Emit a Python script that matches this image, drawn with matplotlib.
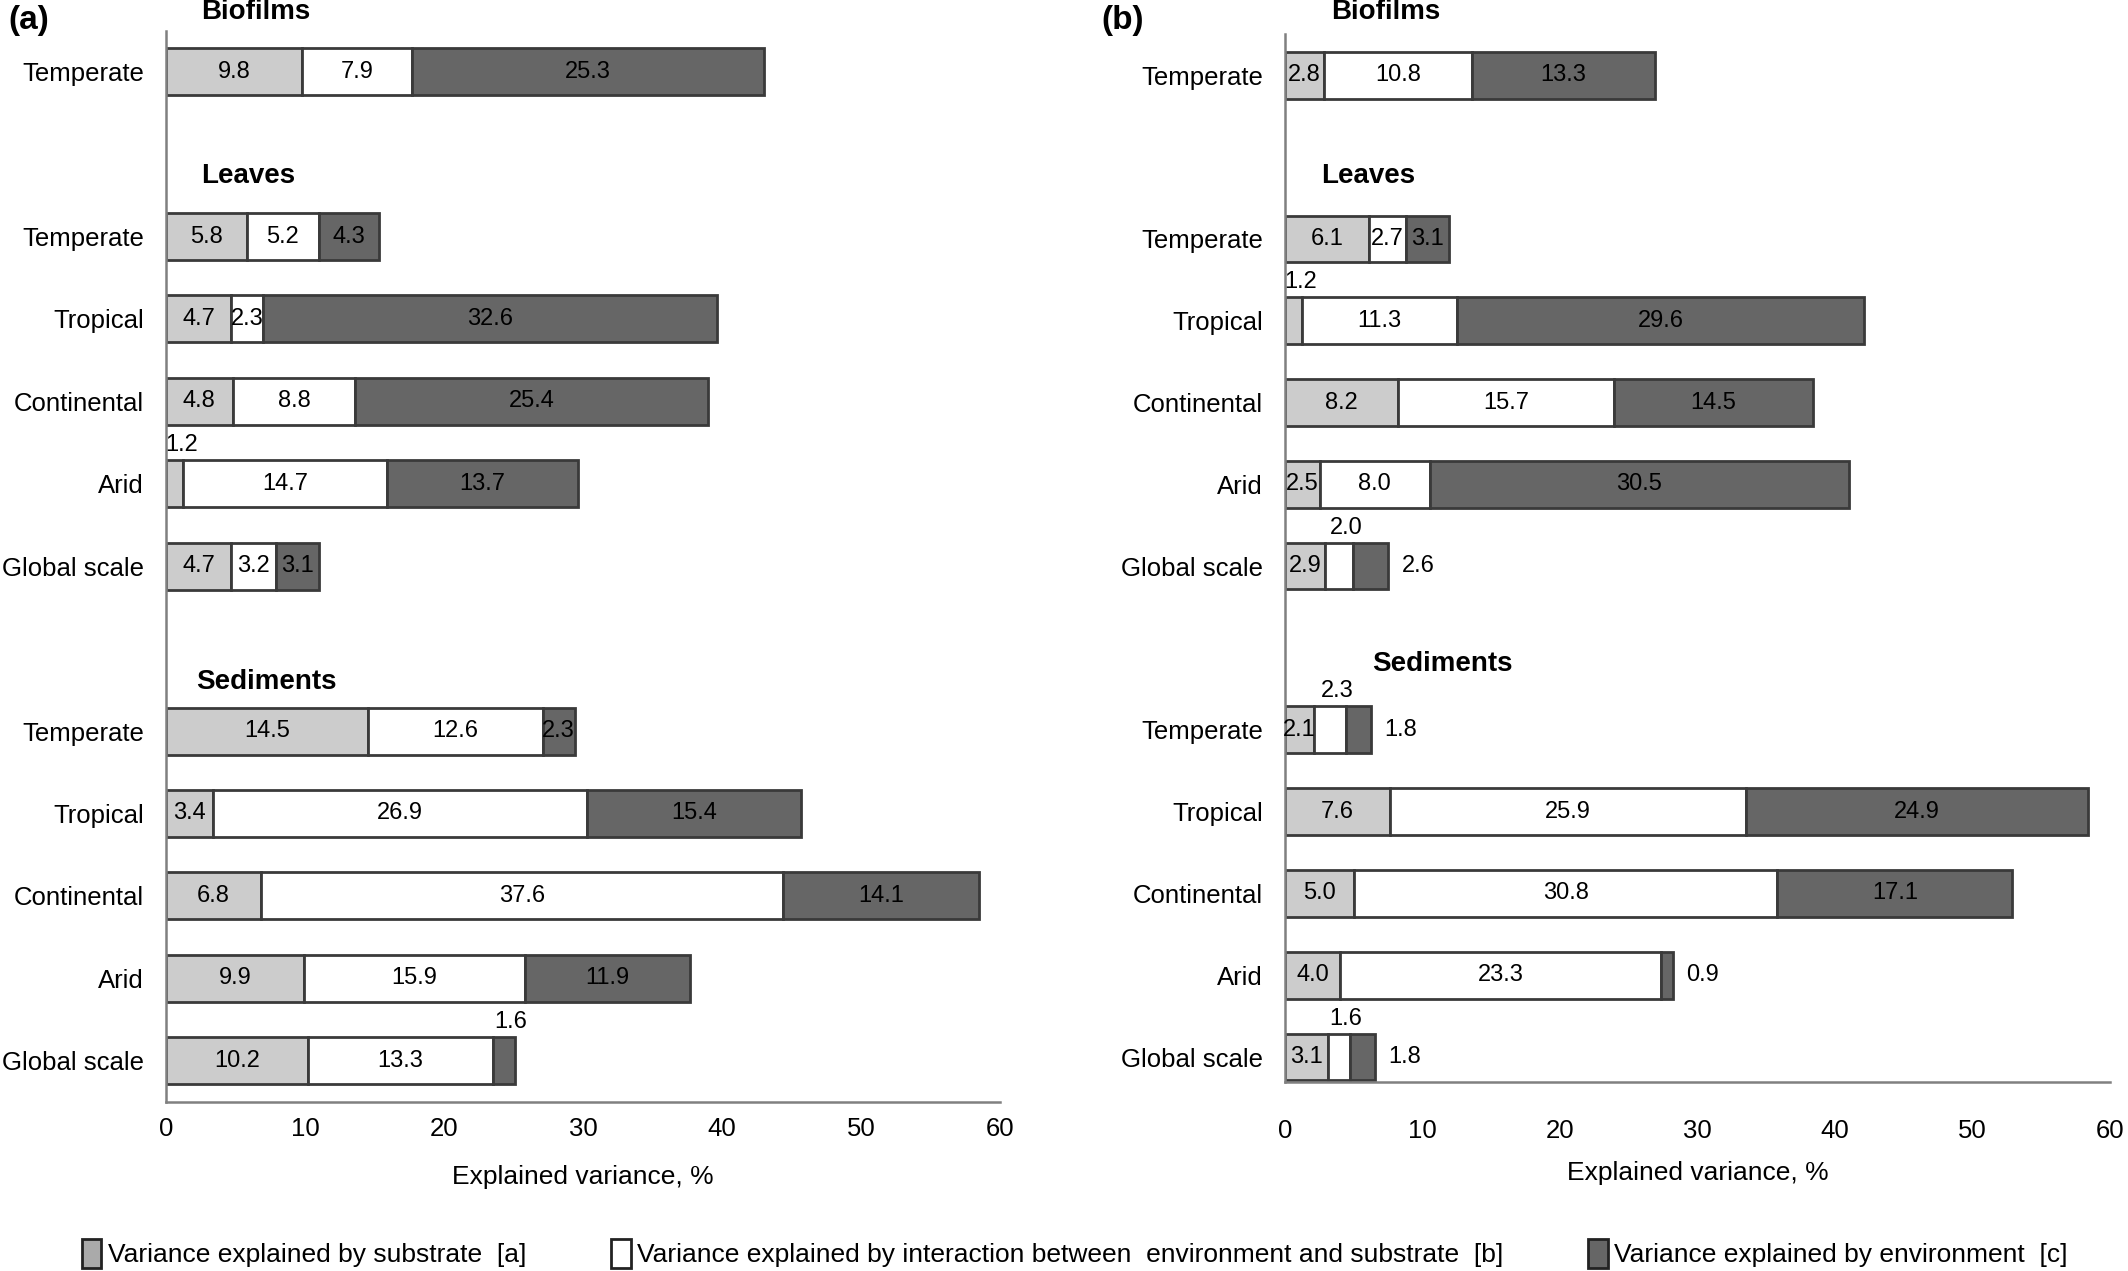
import numpy as np
import matplotlib
matplotlib.use('Agg')
import matplotlib.pyplot as plt
from matplotlib.patches import Patch

plt.rcParams['font.family'] = ['Liberation Sans', 'DejaVu Sans']

# rows: 0 = biofilms, 2-6 = leaves, 8-12 = sediments
rows = [0, 2, 3, 4, 5, 6, 8, 9, 10, 11, 12]
labels = ['Temperate', 'Temperate', 'Tropical', 'Continental', 'Arid', 'Global scale',
          'Temperate', 'Tropical', 'Continental', 'Arid', 'Global scale']

# panel (a)
a_sub = [9.8, 5.8, 4.7, 4.8, 1.2, 4.7, 14.5, 3.4, 6.8, 9.9, 10.2]
a_int = [7.9, 5.2, 2.3, 8.8, 14.7, 3.2, 12.6, 26.9, 37.6, 15.9, 13.3]
a_env = [25.3, 4.3, 32.6, 25.4, 13.7, 3.1, 2.3, 15.4, 14.1, 11.9, 1.6]
# where each value label goes: 'in' = inside, 'up' = above segment, 'out' = right of bar
a_pos = [['in', 'in', 'in'], ['in', 'in', 'in'], ['in', 'in', 'in'], ['in', 'in', 'in'],
         ['up', 'in', 'in'], ['in', 'in', 'in'], ['in', 'in', 'in'], ['in', 'in', 'in'],
         ['in', 'in', 'in'], ['in', 'in', 'in'], ['in', 'in', 'up']]

# panel (b)
b_sub = [2.8, 6.1, 1.2, 8.2, 2.5, 2.9, 2.1, 7.6, 5.0, 4.0, 3.1]
b_int = [10.8, 2.7, 11.3, 15.7, 8.0, 2.0, 2.3, 25.9, 30.8, 23.3, 1.6]
b_env = [13.3, 3.1, 29.6, 14.5, 30.5, 2.6, 1.8, 24.9, 17.1, 0.9, 1.8]
b_pos = [['in', 'in', 'in'], ['in', 'in', 'in'], ['up', 'in', 'in'], ['in', 'in', 'in'],
         ['in', 'in', 'in'], ['in', 'up', 'out'], ['in', 'up', 'out'], ['in', 'in', 'in'],
         ['in', 'in', 'in'], ['in', 'in', 'out'], ['in', 'up', 'out']]

groups = ['Biofilms', 'Leaves', 'Sediments']

colors = ['#cccccc', '#ffffff', '#666666']
edge = '#3a3a3a'

fig = plt.figure(figsize=(21.28, 12.71), dpi=100)
ax1 = fig.add_axes([0.078, 0.133, 0.392, 0.843])
ax2 = fig.add_axes([0.604, 0.149, 0.3875, 0.824])


def draw(ax, sub, inte, env, pos, ylim, group_y, group_x, tpad, lpad):
    y = np.array(rows)
    segs = [np.array(sub), np.array(inte), np.array(env)]
    left = np.zeros(len(y))
    total = segs[0] + segs[1] + segs[2]
    for k in range(3):
        ax.barh(y, segs[k], left=left, height=0.57, color=colors[k],
                edgecolor=edge, linewidth=2, zorder=2)
        for i in range(len(y)):
            v = segs[k][i]
            p = pos[i][k]
            txt = '%.1f' % v
            if p == 'in':
                ax.text(left[i] + v / 2, y[i], txt, ha='center', va='center',
                        fontsize=17, zorder=3)
            elif p == 'up':
                ax.text(left[i] + v / 2 + 0.5, y[i] - 0.47, txt, ha='center',
                        va='center', fontsize=17, zorder=3)
            else:
                ax.text(total[i] + 1.0, y[i], txt, ha='left', va='center',
                        fontsize=17, zorder=3)
        left = left + segs[k]

    ax.set_xlim(0, 60)
    ax.set_ylim(ylim)
    ax.set_yticks(rows)
    ax.set_yticklabels(labels, fontsize=18.5)
    ax.set_xticks(np.arange(0, 61, 10))
    ax.tick_params(axis='x', labelsize=18.5, length=0, pad=tpad)
    ax.tick_params(axis='y', length=0, pad=16)
    for s in ['top', 'right']:
        ax.spines[s].set_visible(False)
    for s in ['left', 'bottom']:
        ax.spines[s].set_color('#808080')
        ax.spines[s].set_linewidth(1.8)
    ax.set_xlabel('Explained variance, %', fontsize=19, labelpad=lpad)
    for g, gy, gx in zip(groups, group_y, group_x):
        ax.text(gx, gy, g, fontsize=20, fontweight='bold', ha='left',
                va='center', clip_on=False)


draw(ax1, a_sub, a_int, a_env, a_pos, (12.5, -0.5), [-0.72, 1.27, 7.41],
     [2.55, 2.55, 2.15], 11, 17)
draw(ax2, b_sub, b_int, b_env, b_pos, (12.3, -0.5), [-0.77, 1.23, 7.2],
     [3.3, 2.6, 6.3], 27, 13)

fig.text(0.004, 0.984, '(a)', fontsize=24, fontweight='bold', ha='left', va='center')
fig.text(0.5175, 0.984, '(b)', fontsize=24, fontweight='bold', ha='left', va='center')

handles = [Patch(facecolor='#aaaaaa', edgecolor='#222222', linewidth=2),
           Patch(facecolor='#ffffff', edgecolor='#222222', linewidth=2),
           Patch(facecolor='#666666', edgecolor='#222222', linewidth=2)]
leg_labels = ['Variance explained by substrate  [a]',
              'Variance explained by interaction between  environment and substrate  [b]',
              'Variance explained by environment  [c]']
fig.legend(handles, leg_labels, loc='center', bbox_to_anchor=(0.505, 0.014), ncol=3,
           frameon=False, fontsize=19, handlelength=0.75, handleheight=1.3,
           handletextpad=0.25, columnspacing=3.2)

plt.savefig('out.png', dpi=100)
